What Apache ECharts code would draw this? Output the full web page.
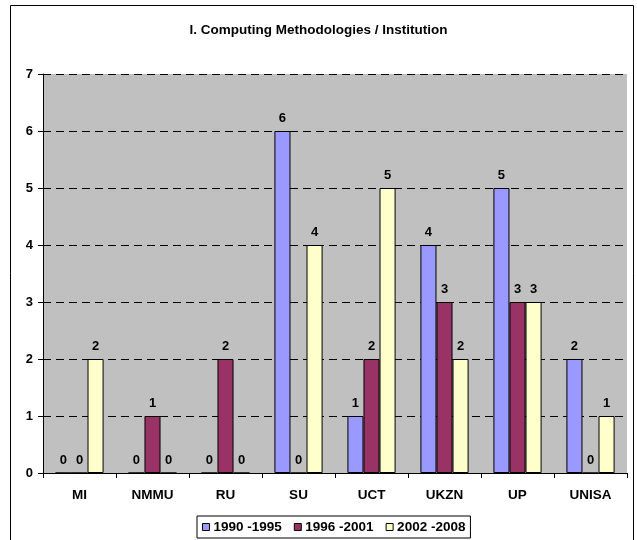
<!DOCTYPE html>
<html>
<head>
<meta charset="utf-8">
<script src="https://cdn.jsdelivr.net/npm/echarts@6/dist/echarts.min.js"></script>
<style>
  html, body { margin: 0; padding: 0; background: #fff; }
  #chart { width: 637px; height: 540px; }
</style>
</head>
<body>
<div id="chart"></div>
<script>
var institutions = ['MI', 'NMMU', 'RU', 'SU', 'UCT', 'UKZN', 'UP', 'UNISA'];
var seriesNames = ['1990 -1995', '1996 -2001', '2002 -2008'];
var p1990 = [0, 0, 0, 6, 1, 4, 5, 2];
var p1996 = [0, 1, 2, 0, 2, 3, 3, 0];
var p2002 = [2, 0, 0, 4, 5, 2, 3, 1];
var seriesData = [p1990, p1996, p2002];
var myColor = ['#9999ff', '#993366', '#ffffcc'];

var chart = echarts.init(document.getElementById('chart'));

var se = [];
for (var i = 0; i < 3; i++) {
  se.push({
    name: seriesNames[i],
    type: 'bar',
    barGap: 0,
    barCategoryGap: '34%',
    data: seriesData[i],
    itemStyle: { color: myColor[i], borderColor: '#000', borderWidth: 1 },
    label: {
      show: true,
      position: 'top',
      distance: 6,
      color: '#000',
      fontFamily: 'Liberation Sans',
      fontWeight: 'bold',
      fontSize: 13
    }
  });
}

chart.setOption({
  backgroundColor: '#fff',
  animation: false,
  color: myColor,
  title: {
    text: 'I. Computing Methodologies / Institution',
    left: 'center',
    top: 18,
    textStyle: {
      color: '#000',
      fontFamily: 'Liberation Sans',
      fontWeight: 'bold',
      fontSize: 13.5
    }
  },
  graphic: [{
    type: 'rect',
    shape: { x: 10.5, y: 5.5, width: 623, height: 540 },
    style: { fill: 'none', stroke: '#000', lineWidth: 1 },
    silent: true,
    z: -1
  }],
  legend: {
    bottom: 2,
    left: 197,
    data: seriesNames,
    itemWidth: 7,
    itemHeight: 7,
    itemGap: 12,
    padding: [4, 5, 4, 5],
    borderColor: '#000',
    borderWidth: 1,
    backgroundColor: '#fff',
    icon: 'rect',
    itemStyle: { borderColor: '#000', borderWidth: 1 },
    textStyle: {
      color: '#000',
      fontFamily: 'Liberation Sans',
      fontWeight: 'bold',
      fontSize: 13.5,
      padding: [0, 0, 0, -1]
    }
  },
  grid: {
    left: 43,
    right: 10,
    top: 74,
    bottom: 67,
    show: true,
    backgroundColor: '#c0c0c0',
    borderWidth: 0
  },
  xAxis: {
    type: 'category',
    data: institutions,
    axisLine: { show: true, lineStyle: { color: '#000', width: 1 } },
    axisTick: { show: true, length: 5, lineStyle: { color: '#000' } },
    axisLabel: {
      interval: 0,
      margin: 15,
      color: '#000',
      fontFamily: 'Liberation Sans',
      fontWeight: 'bold',
      fontSize: 13.5
    },
    splitLine: { show: false }
  },
  yAxis: {
    type: 'value',
    min: 0,
    max: 7,
    interval: 1,
    axisLine: { show: true, lineStyle: { color: '#000', width: 1 } },
    axisTick: { show: true, length: 5, lineStyle: { color: '#000' } },
    axisLabel: {
      margin: 10,
      color: '#000',
      fontFamily: 'Liberation Sans',
      fontWeight: 'bold',
      fontSize: 13
    },
    splitLine: {
      show: true,
      lineStyle: { color: '#000', type: [8, 5], width: 1 }
    }
  },
  series: se
});
</script>
</body>
</html>
